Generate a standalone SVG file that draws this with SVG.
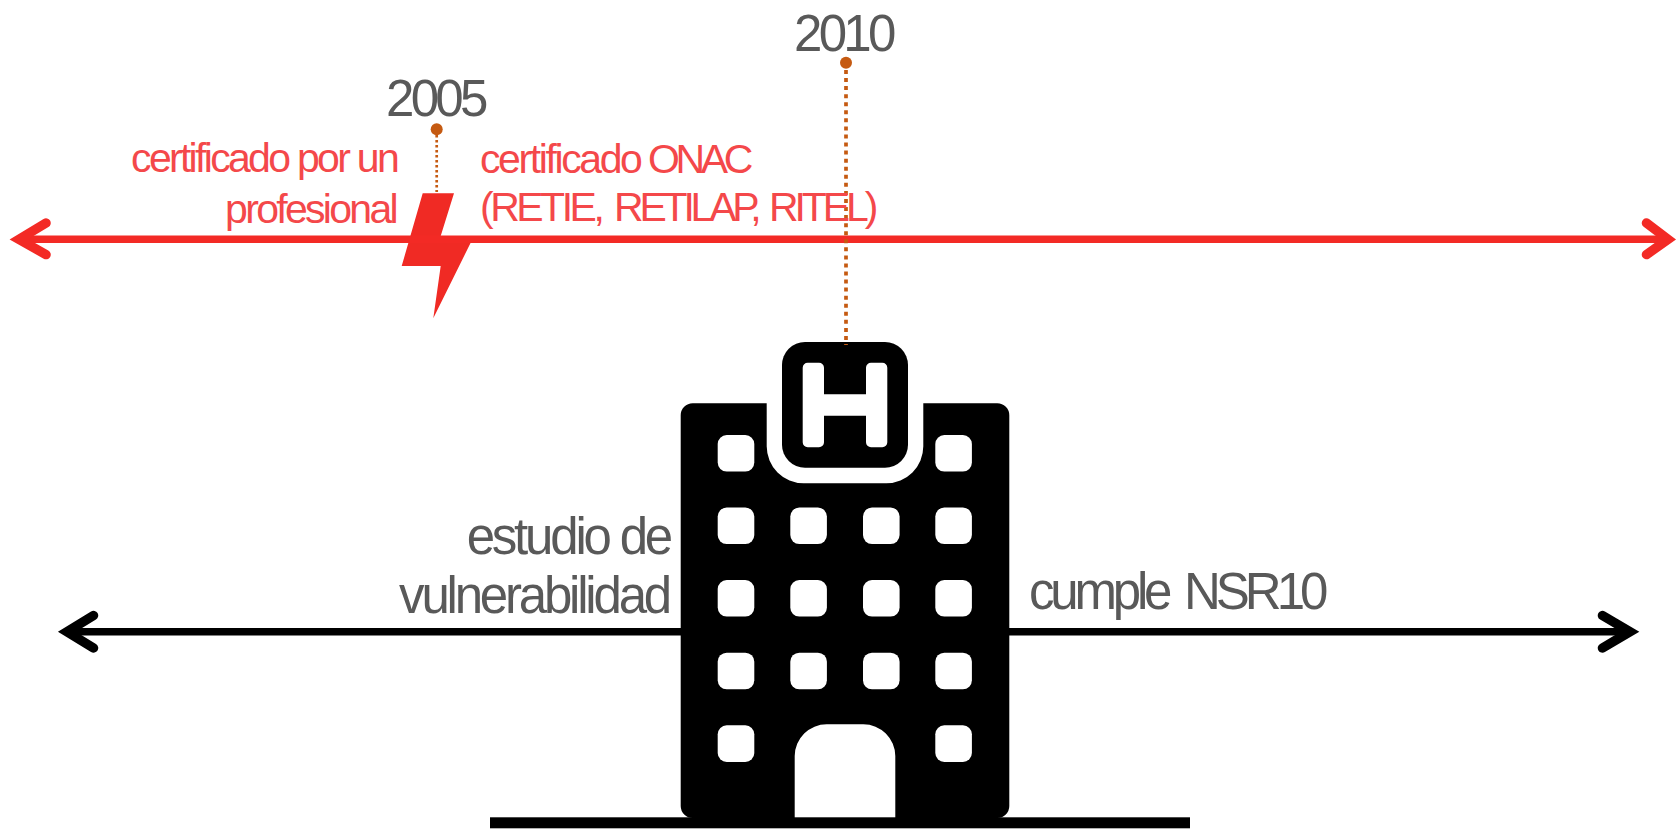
<svg xmlns="http://www.w3.org/2000/svg" width="1677" height="829" viewBox="0 0 1677 829">
<style>
.t{font-family:"Liberation Sans",Arial,sans-serif;font-size:41px;letter-spacing:-2.7px}
.r{fill:#f4484a}.g{fill:#595959}
.y{font-size:51px;letter-spacing:-3.7px}
.b{font-size:51px;letter-spacing:-3.2px}
.e{text-anchor:end}
.dot{fill:#c55a11}
.lead{stroke:#c55a11;fill:none}
.ax{fill:none;stroke-linecap:round;stroke-linejoin:miter}
.w{fill:#fff}
</style>
<defs><rect id="win" width="36.6" height="36.6" rx="9" class="w"/></defs>
<rect width="1677" height="829" fill="#fff"/>
<g id="bolt"><path fill="#f02a24" d="M422.7 193.3H454L440.7 236H474L433.3 318.3 440.7 266H401.7Z"/></g>
<g id="building">
<path fill="#000" fill-rule="evenodd" d="M692.7 403.3H766.7V446.3A37 37 0 0 0 803.7 483.3H886.3A37 37 0 0 0 923.3 446.3V403.3H997.3A12 12 0 0 1 1009.3 415.3V806A12 12 0 0 1 997.3 818H692.7A12 12 0 0 1 680.7 806V415.3A12 12 0 0 1 692.7 403.3Z"/>
<rect x="782" y="342" width="126" height="125.7" rx="23" fill="#000"/>
<path class="w" d="M807.7 362.7H819A5 5 0 0 1 824 367.7V394.3H866V367.7A5 5 0 0 1 871 362.7H882.3A5 5 0 0 1 887.3 367.7V442.3A5 5 0 0 1 882.3 447.3H871A5 5 0 0 1 866 442.3V415.7H824V442.3A5 5 0 0 1 819 447.3H807.7A5 5 0 0 1 802.7 442.3V367.7A5 5 0 0 1 807.7 362.7Z"/>
<use href="#win" x="717.7" y="435"/><use href="#win" x="935.3" y="435"/>
<use href="#win" x="717.7" y="507.5"/><use href="#win" x="790.3" y="507.5"/><use href="#win" x="863" y="507.5"/><use href="#win" x="935.3" y="507.5"/>
<use href="#win" x="717.7" y="580"/><use href="#win" x="790.3" y="580"/><use href="#win" x="863" y="580"/><use href="#win" x="935.3" y="580"/>
<use href="#win" x="717.7" y="652.7"/><use href="#win" x="790.3" y="652.7"/><use href="#win" x="863" y="652.7"/><use href="#win" x="935.3" y="652.7"/>
<use href="#win" x="717.7" y="725.3"/><use href="#win" x="935.3" y="725.3"/>
<path class="w" d="M794.7 818V756A32 32 0 0 1 826.7 724.3H863.3A32 32 0 0 1 895.3 756V818Z"/>
</g>
<g id="ground"><rect x="490" y="817.3" width="700" height="11" fill="#000"/></g>
<g id="connectors">
<path class="ax" stroke="#f32a25" stroke-width="7.5" d="M22 239.3H1664"/>
<path class="ax" stroke="#f32a25" stroke-width="9.5" d="M46 223 19 239.3 46 254.6M1646.5 223 1668 239.3 1646.5 254.6"/>
<path class="ax" stroke="#000" stroke-width="7.5" d="M70 631.7H1626"/>
<path class="ax" stroke="#000" stroke-width="9.5" d="M93.5 615.5 67 631.7 93.5 648M1602.5 615.5 1630 631.7 1602.5 648"/>
<path class="lead" stroke-width="2.7" stroke-dasharray="2.5 2.5" d="M436.7 135V192"/>
<path class="lead" stroke-width="3.7" stroke-dasharray="4 4.06" d="M846 70V345"/>
<circle class="dot" cx="436.7" cy="129.3" r="6"/>
<circle class="dot" cx="846" cy="62.7" r="6"/>
</g>
<g id="labels">
<text class="t y g" x="386" y="116">2005</text>
<text class="t y g" x="794" y="51">2010</text>
<text class="t r e" x="397" y="172">certificado por un</text>
<text class="t r e" x="396" y="223">profesional</text>
<text class="t r" x="480" y="172.5"><tspan style="letter-spacing:-2.4px">certificado </tspan><tspan x="648" style="letter-spacing:-4.4px">ONAC</tspan></text>
<text class="t r" x="480" y="221"><tspan style="letter-spacing:-3.5px">(RETIE, </tspan><tspan x="614" style="letter-spacing:-4.2px">RETILAP, </tspan><tspan x="769" style="letter-spacing:-4.1px">RITEL)</tspan></text>
<text class="t b g e" x="670" y="554">estudio de</text>
<text class="t b g e" x="669" y="613.3">vulnerabilidad</text>
<text class="t b g" x="1029" y="609.3"><tspan style="letter-spacing:-4.2px">cumple </tspan><tspan x="1184" style="letter-spacing:-5px">NSR10</tspan></text>
</g>
</svg>
